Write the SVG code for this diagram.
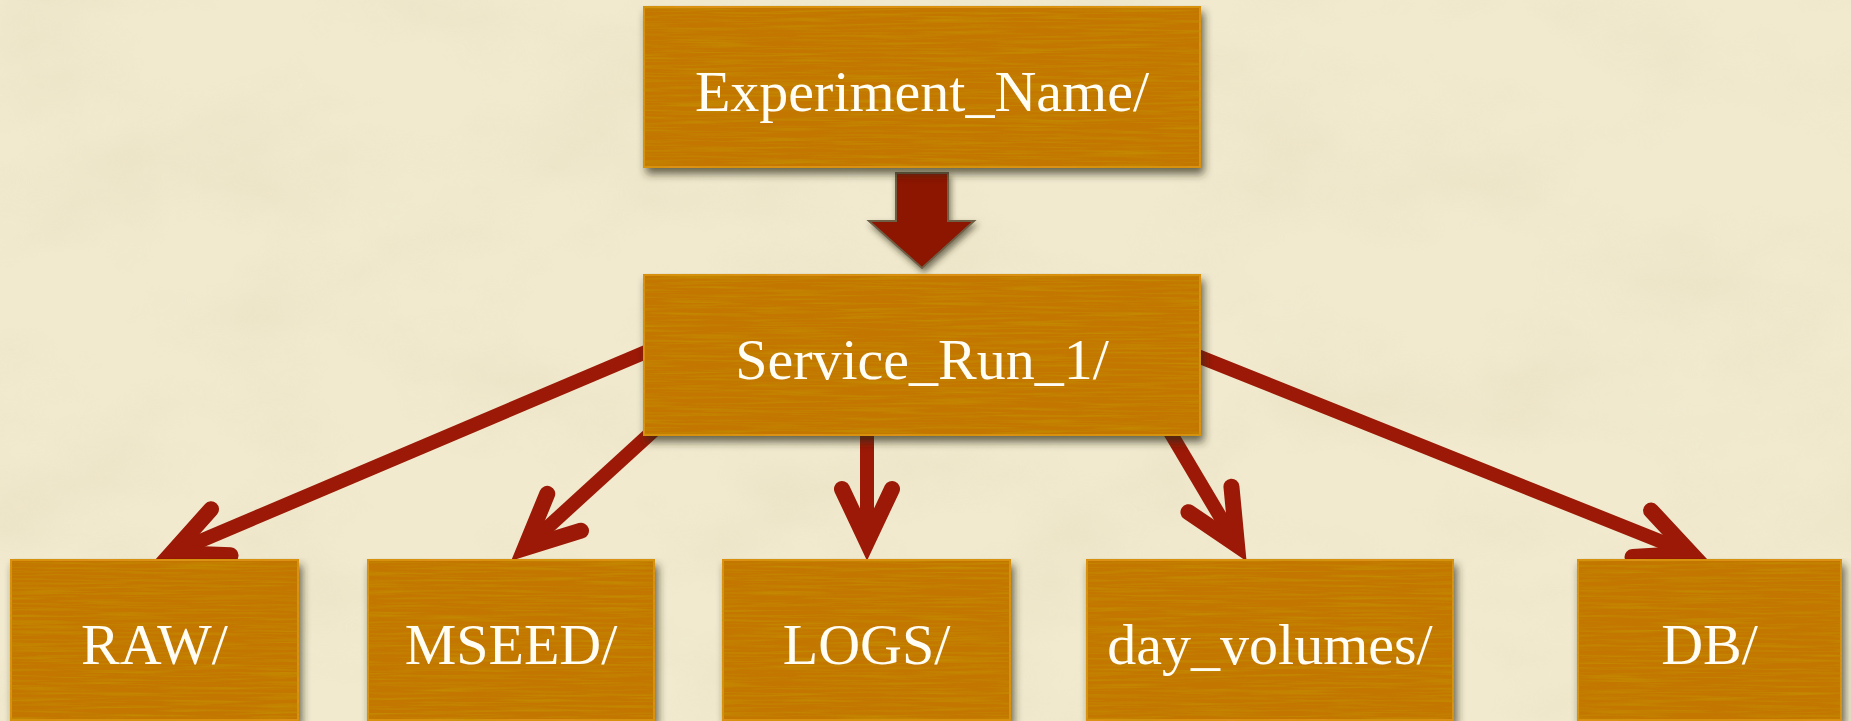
<svg xmlns="http://www.w3.org/2000/svg" width="1851" height="721" viewBox="0 0 1851 721">
  <defs>
    <style>
      .box { fill: #c37706; stroke: #da9112; stroke-width: 2; filter: url(#wood); }
      .label { font-family: "Liberation Serif", "Times New Roman", serif; font-size: 58px; fill: #fffdf4; text-anchor: middle; }
      .link { fill: none; stroke: #9b1906; stroke-width: 14; stroke-linecap: butt; marker-end: url(#head); }
    </style>
    <!-- parchment mottling -->
    <filter id="paper" x="0" y="0" width="100%" height="100%">
      <feTurbulence type="fractalNoise" baseFrequency="0.006 0.009" numOctaves="4" seed="11" result="n"/>
      <feColorMatrix in="n" type="matrix" values="0 0 0 0 0.78  0 0 0 0 0.70  0 0 0 0 0.48  1.2 0 0 0 -0.5"/>
    </filter>
    <!-- wood grain plus drop shadow for the folder boxes -->
    <filter id="wood" x="-5%" y="-5%" width="112%" height="120%">
      <feGaussianBlur in="SourceAlpha" stdDeviation="4"/>
      <feOffset dx="3" dy="6" result="b"/>
      <feFlood flood-color="#2e2a18" flood-opacity="0.7"/>
      <feComposite in2="b" operator="in" result="shadow"/>
      <feTurbulence type="fractalNoise" baseFrequency="0.012 0.4" numOctaves="3" seed="7" result="noise"/>
      <feColorMatrix in="noise" type="matrix" values="0 0 0 0 0.55  0 0 0 0 0.30  0 0 0 0 0  1.4 0 0 0 -0.6" result="grain"/>
      <feComposite in="grain" in2="SourceAlpha" operator="in" result="grainIn"/>
      <feMerge>
        <feMergeNode in="shadow"/>
        <feMergeNode in="SourceGraphic"/>
        <feMergeNode in="grainIn"/>
      </feMerge>
    </filter>
    <filter id="drop" x="-20%" y="-20%" width="150%" height="150%">
      <feGaussianBlur in="SourceAlpha" stdDeviation="3"/>
      <feOffset dx="2" dy="4" result="b"/>
      <feFlood flood-color="#2e2a18" flood-opacity="0.6"/>
      <feComposite in2="b" operator="in" result="shadow"/>
      <feMerge>
        <feMergeNode in="shadow"/>
        <feMergeNode in="SourceGraphic"/>
      </feMerge>
    </filter>
    <marker id="head" markerUnits="userSpaceOnUse" viewBox="-80 -60 120 120" markerWidth="120" markerHeight="120" refX="0" refY="0" orient="auto" overflow="visible">
      <path d="M-53,-25 L0,0 L-53,25" fill="none" stroke="#9b1906" stroke-width="16" stroke-linecap="round" stroke-linejoin="miter"/>
    </marker>
  </defs>

  <!-- background -->
  <rect x="0" y="0" width="1851" height="721" fill="#f1eacf"/>
  <rect x="0" y="0" width="1851" height="721" filter="url(#paper)" opacity="0.6"/>

  <!-- connectors -->
  <g id="connectors">
    <polygon id="link-experiment-service" points="896,173 948,173 948,221 974,221 922,268 869,221 896,221" fill="#8c1204" stroke="#6e5f45" stroke-width="2" stroke-linejoin="miter" filter="url(#drop)"/>
    <line class="link" x1="660" y1="346" x2="172" y2="553"/>
    <line class="link" x1="663" y1="422" x2="525" y2="548"/>
    <line class="link" x1="867" y1="425" x2="867" y2="542"/>
    <line class="link" x1="1164" y1="422" x2="1237" y2="545"/>
    <line class="link" x1="1185" y1="351" x2="1691" y2="553.5"/>
  </g>

  <g id="experiment-name">
    <rect class="box" x="644" y="7" width="556" height="160"/>
    <text class="label" x="922" y="111">Experiment_Name/</text>
  </g>

  <g id="service-run-1">
    <rect class="box" x="644" y="275" width="556" height="160"/>
    <text class="label" x="922" y="379">Service_Run_1/</text>
  </g>

  <g id="raw">
    <rect class="box" x="11" y="560" width="287" height="160"/>
    <text class="label" x="154.5" y="664">RAW/</text>
  </g>

  <g id="mseed">
    <rect class="box" x="368" y="560" width="286" height="160"/>
    <text class="label" x="511" y="664">MSEED/</text>
  </g>

  <g id="logs">
    <rect class="box" x="723" y="560" width="287" height="160"/>
    <text class="label" x="866.5" y="664">LOGS/</text>
  </g>

  <g id="day-volumes">
    <rect class="box" x="1087" y="560" width="366" height="160"/>
    <text class="label" x="1270" y="664">day_volumes/</text>
  </g>

  <g id="db">
    <rect class="box" x="1578" y="560" width="263" height="160"/>
    <text class="label" x="1709.5" y="664">DB/</text>
  </g>
</svg>
